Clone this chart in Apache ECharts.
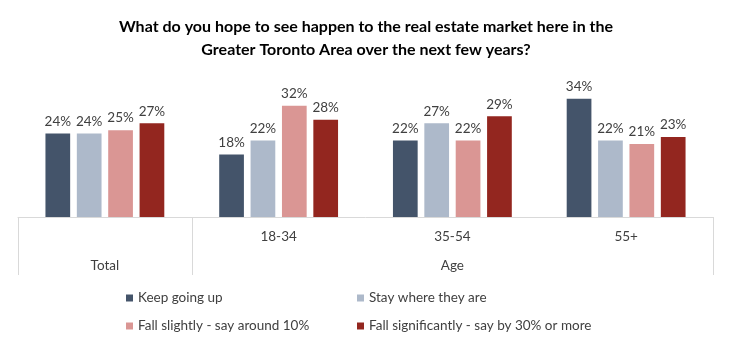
<!DOCTYPE html>
<html><head><meta charset="utf-8">
<script src="https://cdn.jsdelivr.net/npm/echarts@6/dist/echarts.min.js"></script>
<style>html,body{margin:0;padding:0;background:#fff}#c{width:732px;height:347px}</style>
</head><body><div id="c"></div>
<script>
const titleText = 'What do you hope to see happen to the real estate market here in the\nGreater Toronto Area over the next few years?';
const categories = ['Total', '18-34', '35-54', '55+'];
const groupLabels = ['Total', '', 'Age', ''];
const seriesNames = ['Keep going up', 'Stay where they are', 'Fall slightly - say around 10%', 'Fall significantly - say by 30% or more'];
const keepGoingUp = [24, 18, 22, 34];
const stayWhereTheyAre = [24, 22, 27, 22];
const fallSlightly = [25, 32, 22, 21];
const fallSignificantly = [27, 28, 29, 23];
const colors = ['#44546A', '#ADB9CA', '#DA9694', '#93261F'];

const FONT = 'Lato';
const seriesData = [keepGoingUp, stayWhereTheyAre, fallSlightly, fallSignificantly];

const chart = echarts.init(document.getElementById('c'), null, {renderer: 'canvas'});
chart.setOption({
  animation: false,
  color: colors,
  textStyle: {fontFamily: FONT},
  title: {
    text: titleText,
    left: 'center',
    top: 10,
    textStyle: {fontFamily: FONT, fontSize: 16, fontWeight: 'bold', color: '#000', lineHeight: 23, align: 'center'}
  },
  legend: [
    {
      data: [seriesNames[0], seriesNames[2]],
      orient: 'vertical', left: 121, top: 286,
      icon: 'rect', itemWidth: 7, itemHeight: 7, itemGap: 14,
      textStyle: {fontFamily: FONT, fontSize: 13.5, color: '#404040'}
    },
    {
      data: [seriesNames[1], seriesNames[3]],
      orient: 'vertical', left: 352, top: 286,
      icon: 'rect', itemWidth: 7, itemHeight: 7, itemGap: 14,
      textStyle: {fontFamily: FONT, fontSize: 13.5, color: '#404040'}
    }
  ],
  grid: {left: 18, right: 19, top: 78, bottom: 130, containLabel: false},
  xAxis: [
    {
      type: 'category', data: categories, position: 'bottom',
      axisLine: {show: true, lineStyle: {color: '#D9D9D9', width: 1}},
      axisTick: {show: true, interval: function (i) { return i <= 1; }, length: 58, lineStyle: {color: '#D9D9D9', width: 1}},
      axisLabel: {margin: 13, fontFamily: FONT, fontSize: 13.5, color: '#404040',
        formatter: function (v, i) { return i === 0 ? '' : v; }}
    },
    {
      type: 'category', data: categories, position: 'bottom', gridIndex: 0,
      axisLine: {show: false}, axisTick: {show: false},
      axisLabel: {margin: 42, fontFamily: FONT, fontSize: 13.5, color: '#404040', interval: 0,
        formatter: function (v, i) { return groupLabels[i]; }}
    }
  ],
  yAxis: {type: 'value', min: 0, max: 40, show: false, splitLine: {show: false}},
  series: seriesNames.map(function (name, k) {
    return {
      name: name, type: 'bar', xAxisIndex: 0,
      data: seriesData[k],
      barGap: '27%', barCategoryGap: '31.6%',
      label: {show: true, position: 'top', distance: 5, formatter: '{c}%',
        fontFamily: FONT, fontSize: 13.5, color: '#404040'}
    };
  })
});
</script></body></html>
